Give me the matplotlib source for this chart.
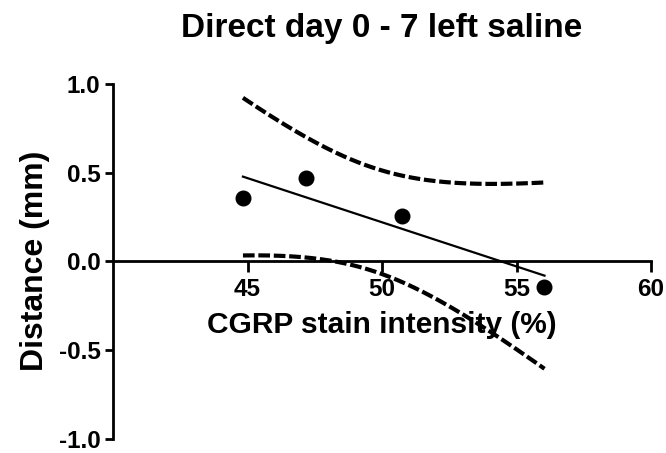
import numpy as np
import matplotlib
matplotlib.use("Agg")
import matplotlib.pyplot as plt

plt.rcParams["font.family"] = ["Liberation Sans", "DejaVu Sans"]
plt.rcParams["font.weight"] = "bold"

# data
cgrp = np.array([44.83, 47.18, 50.75, 56.04])
distance = np.array([0.355, 0.470, 0.258, -0.144])
x_ticks = [45, 50, 55, 60]
y_ticks = [-1.0, -0.5, 0.0, 0.5, 1.0]

# linear fit with 95% confidence bands
n = len(cgrp)
slope, intercept = np.polyfit(cgrp, distance, 1)
resid = distance - (slope * cgrp + intercept)
s = np.sqrt(np.sum(resid ** 2) / (n - 2))
sxx = np.sum((cgrp - cgrp.mean()) ** 2)
t_crit = 4.303  # t(0.975, df=2)
xf = np.linspace(cgrp.min(), cgrp.max(), 200)
yf = slope * xf + intercept
half = t_crit * s * np.sqrt(1.0 / n + (xf - cgrp.mean()) ** 2 / sxx)

fig = plt.figure(figsize=(6.66, 4.53), dpi=100)
ax = fig.add_axes([0.1697, 0.0320, 0.8078, 0.7826])

ax.plot(xf, yf, color="black", linewidth=1.6, zorder=3)
ax.plot(xf, yf + half, color="black", linewidth=3, linestyle=(0, (2.8, 0.9)), zorder=3)
ax.plot(xf, yf - half, color="black", linewidth=3, linestyle=(0, (2.8, 0.9)), zorder=3)
ax.plot(cgrp, distance, "o", color="black", markersize=10.5, zorder=4)

ax.set_xlim(40, 60)
ax.set_ylim(-1, 1)
ax.spines["top"].set_visible(False)
ax.spines["right"].set_visible(False)
ax.spines["bottom"].set_position(("data", 0))
ax.spines["left"].set_linewidth(2)
ax.spines["bottom"].set_linewidth(2)

ax.set_xticks(x_ticks)
ax.set_yticks(y_ticks)
ax.set_yticklabels([f"{v:.1f}" for v in y_ticks])
ax.tick_params(axis="x", length=8, width=2, labelsize=17.5, pad=4)
ax.tick_params(axis="y", length=6, width=2, labelsize=17.5, pad=3)

ax.set_xlabel("CGRP stain intensity (%)", fontsize=21.5, fontweight="bold", labelpad=7)
ax.set_ylabel("Distance (mm)", fontsize=23, fontweight="bold", labelpad=6)
ax.set_title("Direct day 0 - 7 left saline", fontsize=24, fontweight="bold", pad=34)

fig.savefig("out.png", dpi=100)
